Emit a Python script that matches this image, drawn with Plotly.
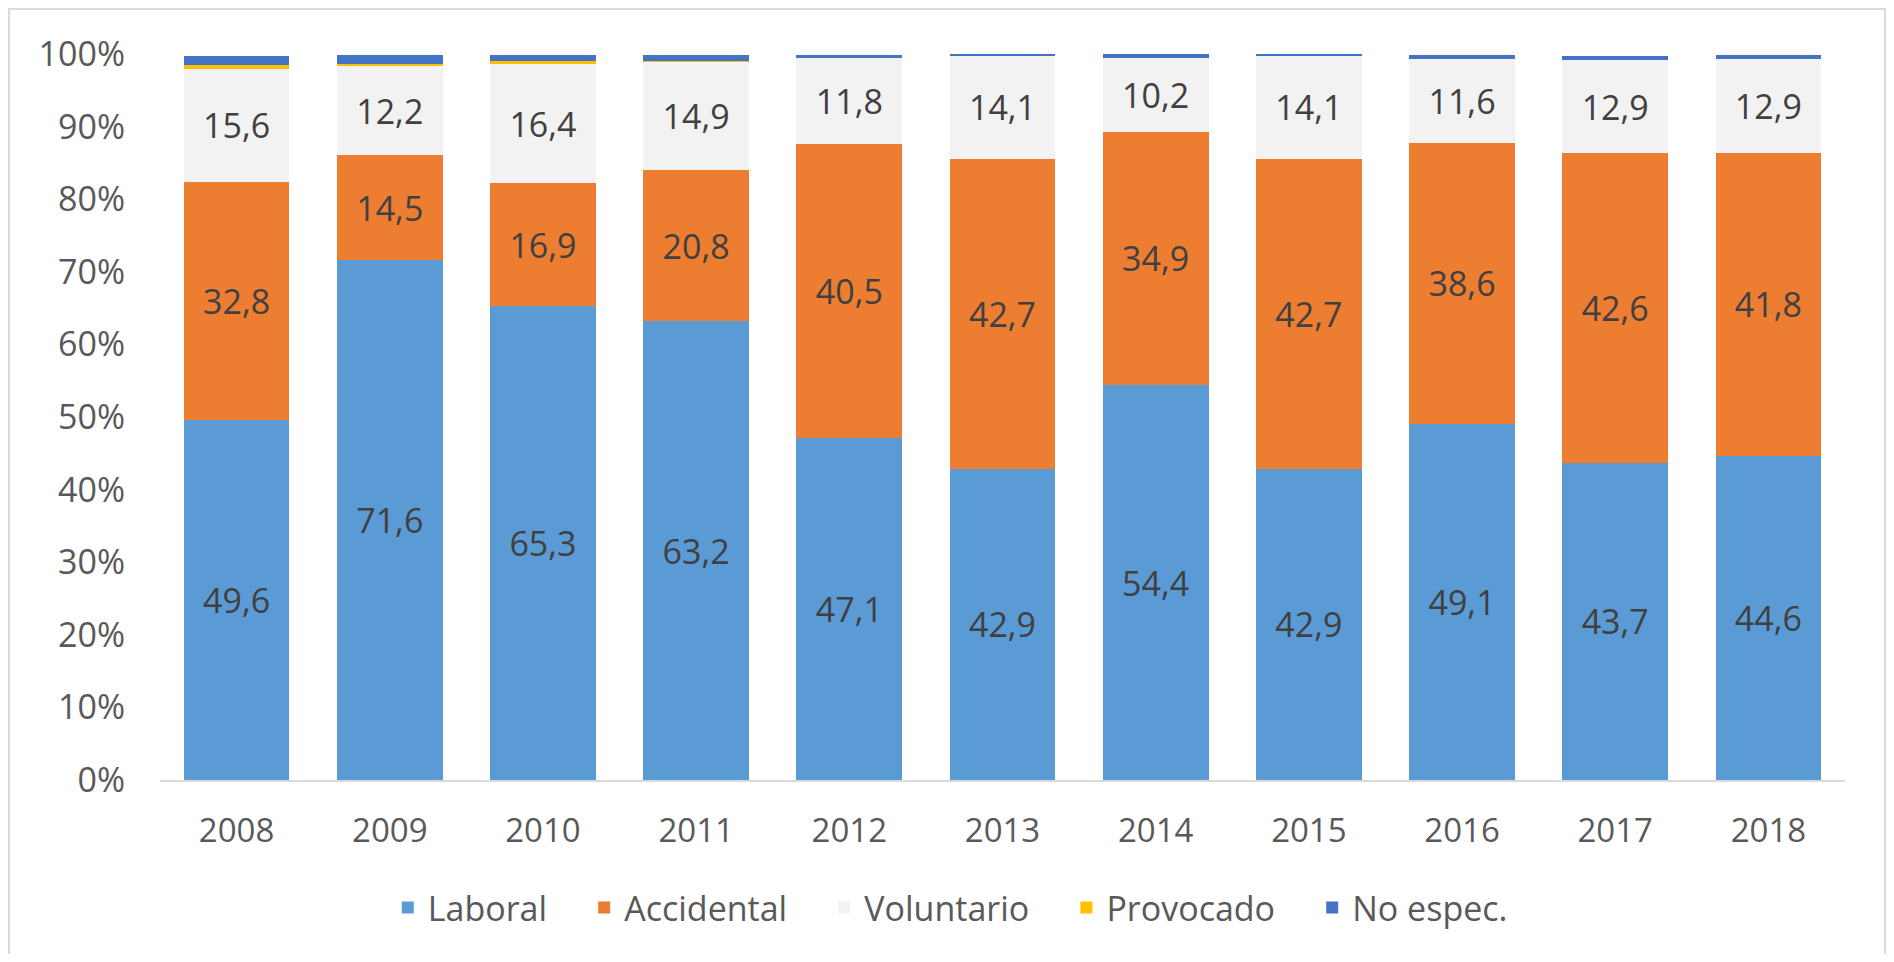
import plotly.graph_objects as go

years = ["2008", "2009", "2010", "2011", "2012", "2013", "2014", "2015", "2016", "2017", "2018"]
laboral = [49.6, 71.6, 65.3, 63.2, 47.1, 42.9, 54.4, 42.9, 49.1, 43.7, 44.6]
accidental = [32.8, 14.5, 16.9, 20.8, 40.5, 42.7, 34.9, 42.7, 38.6, 42.6, 41.8]
voluntario = [15.6, 12.2, 16.4, 14.9, 11.8, 14.1, 10.2, 14.1, 11.6, 12.9, 12.9]
provocado = [0.5, 0.3, 0.4, 0.1, 0.0, 0.0, 0.0, 0.0, 0.0, 0.0, 0.0]
no_espec = [1.2, 1.2, 0.8, 0.9, 0.5, 0.5, 0.5, 0.5, 0.5, 0.5, 0.5]
y_ticks = [0, 10, 20, 30, 40, 50, 60, 70, 80, 90, 100]

FONT = "Open Sans"
TXT = "#404040"
AX = "#595959"
PAD = "\u00a0\u00a0\u00a0\u2009"

def lbl(vals):
    return [f"{v:.1f}".replace(".", ",") for v in vals]

series = [
    ("Laboral" + PAD, laboral, "#5B9BD5", True),
    ("Accidental" + PAD, accidental, "#ED7D31", True),
    ("Voluntario" + PAD, voluntario, "#F2F2F2", True),
    ("Provocado" + PAD, provocado, "#FFC000", False),
    ("No espec.", no_espec, "#4472C4", False),
]

fig = go.Figure()
for name, vals, color, show in series:
    fig.add_trace(go.Bar(
        x=years, y=vals, name=name,
        marker=dict(color=color, line=dict(width=0)),
        text=lbl(vals) if show else None,
        textposition="inside" if show else "none",
        insidetextanchor="middle",
        textangle=0,
        textfont=dict(family=FONT, size=34, color=TXT),
        hoverinfo="x+y+name",
    ))

fig.update_layout(
    barmode="stack",
    bargap=0.31,
    width=1878, height=946,
    margin=dict(l=152, r=41, t=46, b=174),
    paper_bgcolor="white", plot_bgcolor="white",
    font=dict(family=FONT, size=34, color=AX),
    legend=dict(
        orientation="h", x=0.469, xanchor="center", y=-0.176, yanchor="middle",
        font=dict(family=FONT, size=34, color=AX),
        traceorder="normal",
    ),
    xaxis=dict(
        showline=True, linecolor="#D9D9D9", linewidth=2,
        ticks="", tickfont=dict(size=33, color=AX),
        showgrid=False, ticklabelstandoff=20,
    ),
    yaxis=dict(
        range=[0, 100], tickvals=y_ticks,
        ticktext=[f"{t}%" for t in y_ticks],
        showgrid=False, zeroline=False, showline=False,
        tickfont=dict(size=34, color=AX),
        ticklabelstandoff=34,
    ),
    shapes=[dict(
        type="rect", xref="paper", yref="paper",
        x0=-0.0896, x1=1.0237, y0=-0.35, y1=1.062,
        line=dict(color="#D9D9D9", width=2), fillcolor="rgba(0,0,0,0)",
        layer="below",
    )],
)

fig.write_html("out.html")
